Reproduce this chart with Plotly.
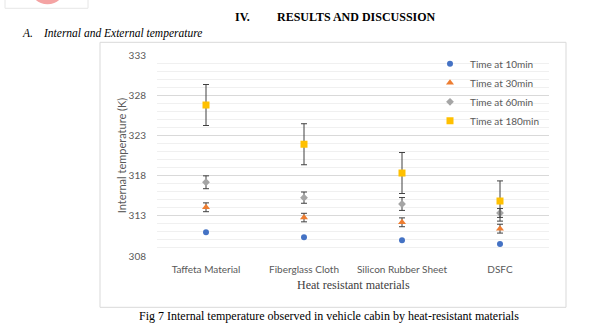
import plotly.graph_objects as go

# Heat-resistant materials compared
materials = ["Taffeta Material", "Fiberglass Cloth", "Silicon Rubber Sheet", "DSFC"]

# Mean internal cabin temperature (K) at each time point
temp_10min = [310.95, 310.33, 309.95, 309.49]
temp_30min = [314.06, 312.78, 312.19, 311.40]
temp_60min = [317.17, 315.26, 314.47, 313.35]
temp_180min = [326.78, 321.90, 318.32, 314.84]

# Error-bar half widths (K)
err_30min = [0.55, 0.53, 0.55, 0.55]
err_60min = [0.80, 0.70, 0.80, 0.55]
err_180min = [2.55, 2.55, 2.55, 2.50]

y_ticks = [308, 313, 318, 323, 328, 333]

W, H = 597, 326
L, R, T, B = 157, 549, 54.7, 255.7


def px(x):
    return (x - L) / (R - L)


def py(y):
    return (B - y) / (B - T)


err_style = dict(type="data", visible=True, color="#404040", thickness=1, width=3)

series = [
    ("Time at 10min", temp_10min, None, "#4472C4", "circle", 6),
    ("Time at 30min", temp_30min, err_30min, "#ED7D31", "triangle-up", 7),
    ("Time at 60min", temp_60min, err_60min, "#A5A5A5", "diamond", 6),
    ("Time at 180min", temp_180min, err_180min, "#FFC000", "square", 7),
]

fig = go.Figure()
for name, vals, errs, color, symbol, size in series:
    kw = {}
    if errs is not None:
        kw["error_y"] = dict(array=errs, **err_style)
    fig.add_trace(go.Scatter(
        x=materials, y=vals, name=name, mode="markers",
        marker=dict(color=color, symbol=symbol, size=size, line=dict(width=0)),
        **kw,
    ))

axis_font = dict(family="Lato, Open Sans, sans-serif", size=10, color="#595959")
serif = "Liberation Serif, Times New Roman, serif"

fig.update_layout(
    width=W, height=H,
    margin=dict(l=L, r=W - R, t=T, b=H - B, pad=0),
    paper_bgcolor="white", plot_bgcolor="white",
    showlegend=True,
    legend=dict(
        x=px(430), y=py(49), xanchor="left", yanchor="top",
        font=dict(family="Lato, Open Sans, sans-serif", size=10, color="#595959"),
        bgcolor="rgba(0,0,0,0)", itemwidth=30, tracegroupgap=0,
    ),
    xaxis=dict(
        type="category", range=[-0.5, 3.5], showgrid=False, zeroline=False,
        showline=False, ticks="", tickfont=axis_font, ticklabelstandoff=6,
    ),
    yaxis=dict(
        range=[308, 333], tickvals=y_ticks, ticktext=[str(v) for v in y_ticks],
        showgrid=True, gridcolor="#D9D9D9", gridwidth=1, zeroline=False,
        showline=False, ticks="", tickfont=axis_font, ticklabelstandoff=10,
        minor=dict(dtick=1, showgrid=True, gridcolor="#F0F0F0", gridwidth=1),
    ),
)

shapes = [
    # chart frame
    dict(type="rect", xref="paper", yref="paper",
         x0=px(100), x1=px(566), y0=py(307), y1=py(42),
         line=dict(color="#D9D9D9", width=1), fillcolor="rgba(0,0,0,0)", layer="below"),
    # partial logo box at the page top
    dict(type="rect", xref="paper", yref="paper",
         x0=px(5), x1=px(88), y0=py(8), y1=py(-20),
         line=dict(color="#E6E6E6", width=1), fillcolor="rgba(0,0,0,0)"),
    dict(type="circle", xref="paper", yref="paper",
         x0=px(30), x1=px(65), y0=py(4), y1=py(-30),
         line=dict(width=0), fillcolor="#F4A3A3"),
]
fig.update_layout(shapes=shapes)

annotations = [
    dict(text="<b>IV.</b>", x=px(233), y=py(17), xanchor="left", yanchor="middle",
         font=dict(family=serif, size=12, color="black")),
    dict(text="<b>RESULTS AND DISCUSSION</b>", x=px(275), y=py(17), xanchor="left",
         yanchor="middle", font=dict(family=serif, size=12, color="black")),
    dict(text="<i>A.</i>", x=px(20), y=py(33), xanchor="left", yanchor="middle",
         font=dict(family=serif, size=11.5, color="black")),
    dict(text="<i>Internal and External temperature</i>", x=px(41), y=py(33),
         xanchor="left", yanchor="middle", font=dict(family=serif, size=11.5, color="black")),
    dict(text="Internal temperature (K)", x=px(121), y=py(155), textangle=-90,
         xanchor="center", yanchor="middle",
         font=dict(family="Lato, Open Sans, sans-serif", size=11, color="#595959")),
    dict(text="Heat resistant materials", x=px(353), y=py(285), xanchor="center",
         yanchor="middle", font=dict(family=serif, size=12, color="#404040")),
    dict(text="Fig 7 Internal temperature observed in vehicle cabin by heat-resistant materials",
         x=px(329), y=py(316), xanchor="center", yanchor="middle",
         font=dict(family=serif, size=12, color="black")),
]
for a in annotations:
    a.update(xref="paper", yref="paper", showarrow=False)
fig.update_layout(annotations=annotations)

fig.write_html("out.html")
